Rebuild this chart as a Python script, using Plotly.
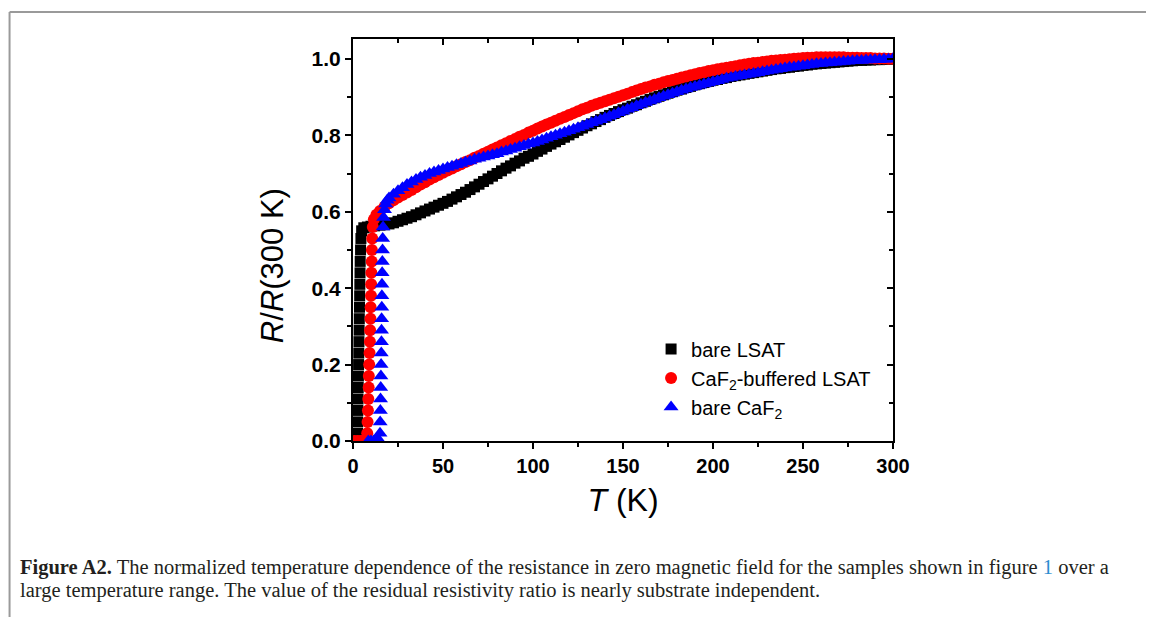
import plotly.graph_objects as go

# ---------------- data ----------------
T_common = [20, 22.5, 25, 27.5, 30, 32.5, 35, 37.5, 40, 42.5, 45, 47.5, 50, 52.5, 55,
            57.5, 60, 62.5, 65, 67.5, 70, 72.5, 75, 77.5, 80, 82.5, 85, 87.5, 90,
            92.5, 95, 97.5, 100, 102.5, 105, 107.5, 110, 112.5, 115, 117.5, 120,
            122.5, 125, 127.5, 130, 132.5, 135, 137.5, 140, 142.5, 145, 147.5, 150,
            152.5, 155, 157.5, 160, 162.5, 165, 167.5, 170, 172.5, 175, 177.5, 180,
            182.5, 185, 187.5, 190, 192.5, 195, 197.5, 200, 202.5, 205, 207.5, 210,
            212.5, 215, 217.5, 220, 222.5, 225, 227.5, 230, 232.5, 235, 237.5, 240,
            242.5, 245, 247.5, 250, 252.5, 255, 257.5, 260, 262.5, 265, 267.5, 270,
            272.5, 275, 277.5, 280, 282.5, 285, 287.5, 290, 292.5, 295, 297.5, 300]

# bare LSAT
T_lsat_low = [2.3, 2.5, 2.6, 2.7, 2.8, 2.9, 3.0, 3.1, 3.2, 3.3, 3.4, 3.5, 3.6, 3.7,
              3.8, 3.9, 4.0, 4.2, 4.4, 4.8, 6, 8, 10, 12, 15, 17.5]
R_lsat_low = [0.0, 0.02, 0.05, 0.08, 0.11, 0.14, 0.17, 0.2, 0.23, 0.26, 0.29, 0.32,
              0.35, 0.38, 0.41, 0.44, 0.47, 0.5, 0.53, 0.55, 0.558, 0.56, 0.562,
              0.563, 0.565, 0.566]
R_lsat = [0.568, 0.571, 0.575, 0.579, 0.583, 0.587, 0.592, 0.597, 0.602, 0.607,
          0.612, 0.617, 0.622, 0.627, 0.633, 0.639, 0.645, 0.651, 0.658, 0.665,
          0.672, 0.679, 0.686, 0.693, 0.700, 0.707, 0.714, 0.720, 0.727, 0.733,
          0.740, 0.745, 0.751, 0.758, 0.764, 0.771, 0.777, 0.783, 0.789, 0.795,
          0.801, 0.807, 0.813, 0.819, 0.825, 0.830, 0.836, 0.841, 0.847, 0.852,
          0.857, 0.862, 0.867, 0.871, 0.876, 0.880, 0.885, 0.889, 0.894, 0.898,
          0.902, 0.906, 0.910, 0.914, 0.918, 0.921, 0.925, 0.928, 0.932, 0.935,
          0.938, 0.941, 0.944, 0.946, 0.949, 0.951, 0.954, 0.956, 0.958, 0.960,
          0.962, 0.964, 0.966, 0.968, 0.970, 0.972, 0.974, 0.975, 0.977, 0.978,
          0.980, 0.981, 0.983, 0.984, 0.986, 0.987, 0.988, 0.989, 0.990, 0.991,
          0.992, 0.993, 0.994, 0.995, 0.996, 0.996, 0.997, 0.997, 0.998, 0.998,
          0.999, 0.999, 1.000]

# CaF2-buffered LSAT
T_buf_low = [0.8, 2.5, 4.0, 5.5, 7.0, 7.9, 8.1, 8.3, 8.5, 8.7, 8.8, 9.0, 9.2, 9.4,
             9.5, 9.7, 9.8, 10.0, 10.1, 10.2, 10.4, 10.5, 10.7, 11.0, 11.6, 13.0,
             15.0, 17.5]
R_buf_low = [0.0, 0.0, 0.0, 0.0, 0.003, 0.02, 0.05, 0.08, 0.11, 0.14, 0.17, 0.2,
             0.23, 0.26, 0.29, 0.32, 0.35, 0.38, 0.41, 0.44, 0.47, 0.5, 0.53, 0.56,
             0.58, 0.592, 0.602, 0.613]
R_buf = [0.622, 0.630, 0.637, 0.644, 0.650, 0.657, 0.664, 0.671, 0.677, 0.684,
         0.690, 0.696, 0.702, 0.708, 0.713, 0.719, 0.724, 0.730, 0.735, 0.741,
         0.746, 0.752, 0.757, 0.763, 0.768, 0.774, 0.779, 0.785, 0.790, 0.796,
         0.801, 0.807, 0.812, 0.818, 0.823, 0.828, 0.833, 0.838, 0.843, 0.848,
         0.853, 0.858, 0.863, 0.868, 0.872, 0.877, 0.881, 0.885, 0.889, 0.893,
         0.897, 0.901, 0.905, 0.909, 0.913, 0.917, 0.921, 0.925, 0.928, 0.932,
         0.935, 0.939, 0.942, 0.945, 0.948, 0.951, 0.954, 0.957, 0.960, 0.963,
         0.965, 0.968, 0.970, 0.973, 0.975, 0.977, 0.979, 0.981, 0.983, 0.985,
         0.987, 0.989, 0.990, 0.992, 0.993, 0.995, 0.996, 0.997, 0.998, 0.999,
         1.000, 1.001, 1.002, 1.003, 1.003, 1.004, 1.004, 1.004, 1.004, 1.004,
         1.004, 1.004, 1.003, 1.003, 1.003, 1.002, 1.002, 1.002, 1.001, 1.001,
         1.001, 1.000, 1.000]

# bare CaF2
T_caf_low = [8.5, 10.0, 11.5, 13.0, 14.3, 15.0, 15.1, 15.2, 15.3, 15.4, 15.5, 15.6,
             15.7, 15.8, 15.85, 15.9, 16.0, 16.05, 16.1, 16.2, 16.3, 16.4, 16.5,
             16.7, 17.0, 17.5, 18.2, 19.0]
R_caf_low = [0.0, 0.0, 0.0, 0.0, 0.003, 0.02, 0.05, 0.08, 0.11, 0.14, 0.17, 0.2,
             0.23, 0.26, 0.29, 0.32, 0.35, 0.38, 0.41, 0.44, 0.47, 0.5, 0.53, 0.56,
             0.585, 0.605, 0.62, 0.63]
R_caf = [0.636, 0.646, 0.655, 0.663, 0.671, 0.678, 0.684, 0.690, 0.695, 0.700,
         0.704, 0.708, 0.712, 0.716, 0.719, 0.723, 0.726, 0.730, 0.733, 0.737,
         0.740, 0.743, 0.746, 0.749, 0.752, 0.756, 0.759, 0.763, 0.766, 0.770,
         0.773, 0.777, 0.780, 0.784, 0.788, 0.792, 0.796, 0.800, 0.804, 0.808,
         0.812, 0.816, 0.820, 0.824, 0.828, 0.833, 0.837, 0.841, 0.845, 0.850,
         0.854, 0.859, 0.863, 0.868, 0.872, 0.877, 0.881, 0.886, 0.890, 0.894,
         0.898, 0.902, 0.906, 0.910, 0.914, 0.918, 0.921, 0.925, 0.928, 0.931,
         0.934, 0.937, 0.940, 0.943, 0.946, 0.949, 0.951, 0.954, 0.956, 0.958,
         0.960, 0.962, 0.964, 0.966, 0.968, 0.970, 0.972, 0.974, 0.976, 0.978,
         0.979, 0.981, 0.982, 0.984, 0.985, 0.987, 0.988, 0.989, 0.990, 0.991,
         0.992, 0.993, 0.994, 0.995, 0.996, 0.996, 0.997, 0.997, 0.998, 0.998,
         0.999, 0.999, 1.000]

x_ticks = [0, 50, 100, 150, 200, 250, 300]
y_ticks = [0.0, 0.2, 0.4, 0.6, 0.8, 1.0]

y_title = "<i>R</i>/<i>R</i>(300 K)"
x_title = "<i>T</i> (K)"
caption_1 = ("<b>Figure A2.</b> The normalized temperature dependence of the resistance in zero "
             "magnetic field for the samples shown in figure <span style='color:#2b8ccf'>1</span> over a")
caption_2 = ("large temperature range. The value of the residual resistivity ratio is nearly "
             "substrate independent.")

assert len(T_common) == len(R_lsat) == len(R_buf) == len(R_caf), (
    len(T_common), len(R_lsat), len(R_buf), len(R_caf))

# ---------------- figure ----------------
FONT = "Liberation Sans, Arial, sans-serif"
SERIF = "Liberation Serif, Times New Roman, serif"
MS = 12

fig = go.Figure()
fig.add_trace(go.Scatter(
    x=T_lsat_low + T_common, y=R_lsat_low + R_lsat, mode="markers",
    name="bare LSAT",
    marker=dict(symbol="square", color="#000000", size=MS - 1, line=dict(width=0))))
fig.add_trace(go.Scatter(
    x=T_buf_low + T_common, y=R_buf_low + R_buf, mode="markers",
    name="CaF<sub>2</sub>-buffered LSAT",
    marker=dict(symbol="circle", color="#ff0000", size=MS, line=dict(width=0))))
fig.add_trace(go.Scatter(
    x=T_caf_low + T_common, y=R_caf_low + R_caf, mode="markers",
    name="bare CaF<sub>2</sub>",
    marker=dict(symbol="triangle-up", color="#0000ff", size=MS + 1, line=dict(width=0))))
# dummy trace so the mirrored (inward-tick) top/right axes are drawn
fig.add_trace(go.Scatter(x=[None], y=[None], xaxis="x2", yaxis="y2",
                         showlegend=False, hoverinfo="skip"))

XR = [0, 300]
YR = [0, 1.052]

fig.update_layout(
    width=1146, height=609,
    margin=dict(l=345, r=261, t=31, b=176),
    paper_bgcolor="white", plot_bgcolor="white",
    showlegend=True,
    font=dict(family=FONT, color="black", size=20),
    xaxis=dict(range=XR, tickvals=x_ticks, ticktext=["<b>%d</b>" % v for v in x_ticks],
               ticks="outside", ticklen=6, tickwidth=2, tickcolor="black",
               minor=dict(dtick=25, ticks="outside", ticklen=4, tickwidth=2, tickcolor="black"),
               showline=True, linewidth=2, linecolor="black", showgrid=False, zeroline=False,
               tickfont=dict(size=20, family=FONT),
               title=dict(text=x_title, font=dict(size=32, family=FONT), standoff=13)),
    yaxis=dict(range=YR, tickvals=y_ticks, ticktext=["<b>%.1f</b>" % v for v in y_ticks],
               ticks="outside", ticklen=6, tickwidth=2, tickcolor="black",
               minor=dict(dtick=0.1, ticks="outside", ticklen=4, tickwidth=2, tickcolor="black"),
               showline=True, linewidth=2, linecolor="black", showgrid=False, zeroline=False,
               tickfont=dict(size=21, family=FONT)),
    xaxis2=dict(range=XR, overlaying="x", side="top", anchor="y2",
                tickvals=x_ticks, showticklabels=False,
                ticks="inside", ticklen=6, tickwidth=2, tickcolor="black",
                minor=dict(dtick=25, ticks="inside", ticklen=4, tickwidth=2, tickcolor="black"),
                showline=True, linewidth=2, linecolor="black", showgrid=False, zeroline=False),
    yaxis2=dict(range=YR, overlaying="y", side="right", anchor="x2",
                tickvals=y_ticks, showticklabels=False,
                ticks="inside", ticklen=6, tickwidth=2, tickcolor="black",
                minor=dict(dtick=0.1, ticks="inside", ticklen=4, tickwidth=2, tickcolor="black"),
                showline=True, linewidth=2, linecolor="black", showgrid=False, zeroline=False),
    legend=dict(x=0.552, xanchor="left", y=0.157, yanchor="middle",
                bgcolor="rgba(0,0,0,0)", borderwidth=0,
                font=dict(size=20, family=FONT), tracegroupgap=0, itemsizing="trace"),
    shapes=[
        dict(type="line", xref="paper", yref="paper", x0=-0.636, x1=1.6, y0=1.0672, y1=1.0672,
             line=dict(color="#9a9a9a", width=2)),
        dict(type="line", xref="paper", yref="paper", x0=-0.636, x1=-0.636, y0=1.0672, y1=-0.45,
             line=dict(color="#9a9a9a", width=2)),
    ],
    annotations=[
        dict(text=y_title, xref="paper", yref="paper", x=-0.150, y=0.435,
             xanchor="center", yanchor="middle", textangle=-90, showarrow=False,
             font=dict(family=FONT, size=31, color="black")),
        dict(text=caption_1, xref="paper", yref="paper", x=-0.620, y=-0.315,
             xanchor="left", yanchor="middle", showarrow=False, align="left",
             font=dict(family=SERIF, size=20.5, color="#231f20")),
        dict(text=caption_2, xref="paper", yref="paper", x=-0.620, y=-0.372,
             xanchor="left", yanchor="middle", showarrow=False, align="left",
             font=dict(family=SERIF, size=20.5, color="#231f20")),
    ],
)

fig.write_html("out.html")
